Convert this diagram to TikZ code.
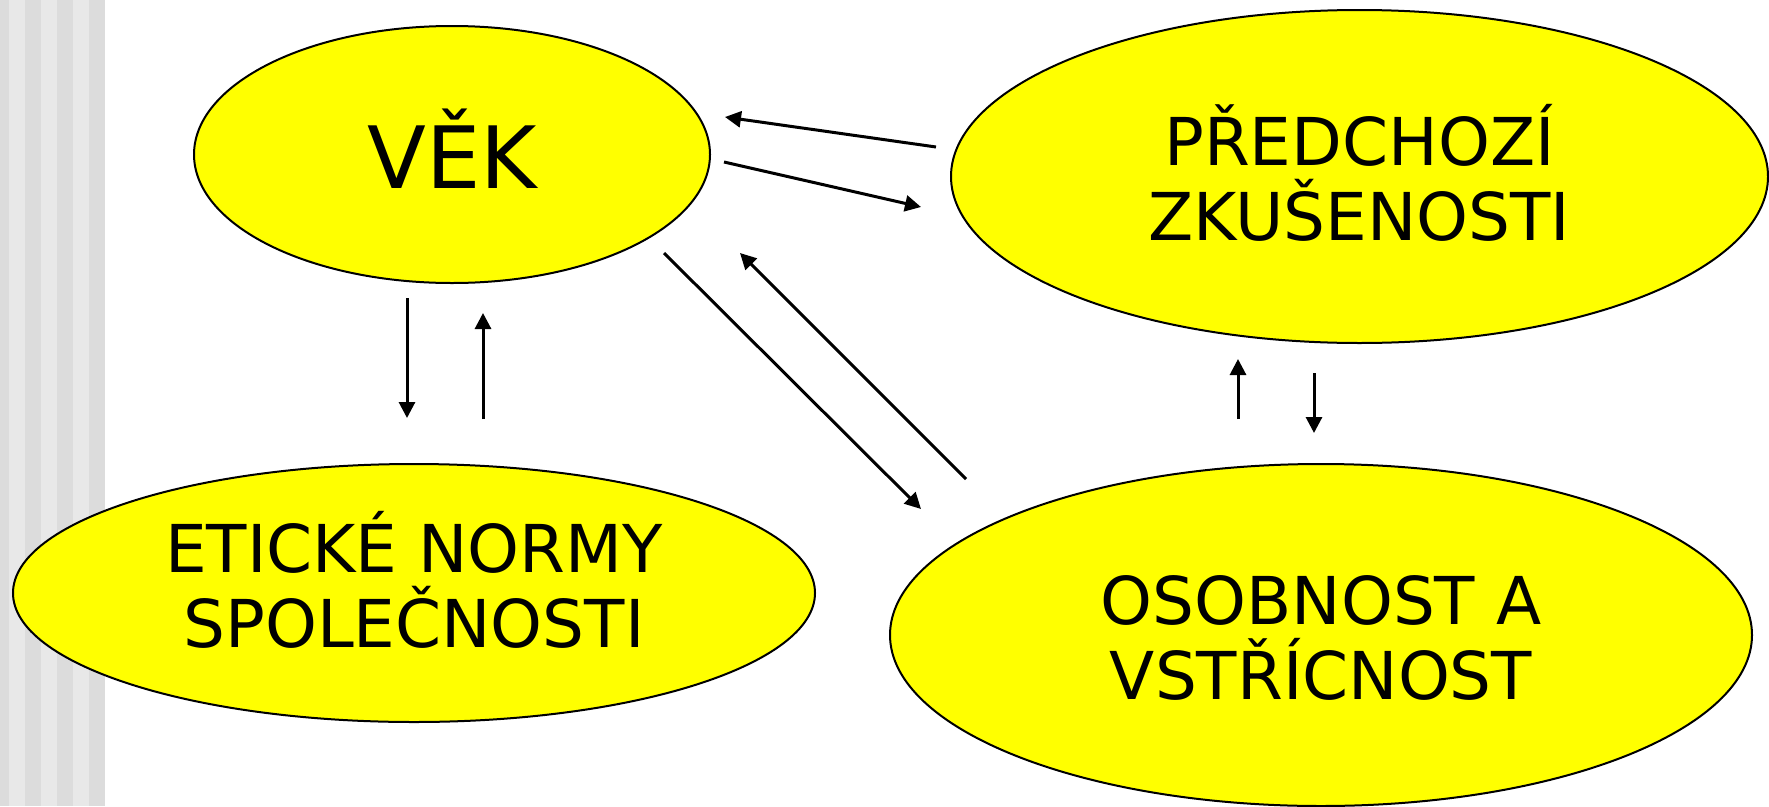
\documentclass[tikz,border=0pt]{standalone}
\usepackage{fontspec}
\setmainfont{DejaVu Sans}
\usetikzlibrary{shapes.geometric,arrows.meta}
\definecolor{stripedark}{HTML}{DCDCDC}
\definecolor{stripelight}{HTML}{E8E8E8}
\definecolor{bubbleyellow}{HTML}{FFFF00}
\begin{document}
\begin{tikzpicture}[x=1pt,y=-1pt,
  bubble/.style={ellipse,draw=black,line width=2pt,fill=bubbleyellow,inner sep=0pt,
    align=center,text depth=0pt,font=\fontsize{66}{75}\selectfont},
  link/.style={line width=3pt,-{Triangle[length=16pt,width=16pt]}}]
\useasboundingbox (0,0) rectangle (1769,806);
\fill[white] (0,0) rectangle (1769,806);
\fill[stripelight] (0,0) rectangle (105,806);
\fill[stripedark] (0,0) rectangle (9,806);
\foreach \x in {25,57,89}
  \fill[stripedark] (\x,0) rectangle (\x+16,806);
\node[bubble,minimum width=516pt,minimum height=257pt,text height=67pt,
  font=\fontsize{86}{100}\selectfont] (vek) at (452,154.5) {VĚK};
\node[bubble,minimum width=817pt,minimum height=333pt,text height=127pt] (predchozi) at (1359.5,176.5) {PŘEDCHOZÍ\\ZKUŠENOSTI};
\node[bubble,minimum width=802pt,minimum height=258pt,text height=108pt] (eticke) at (414,593) {ETICKÉ NORMY\\SPOLEČNOSTI};
\node[bubble,minimum width=862pt,minimum height=342pt,text height=128pt] (osobnost) at (1321,635) {OSOBNOST A\\VSTŘÍCNOST};
\coordinate (pv1) at (936,147);
\coordinate (pv2) at (725,117);
\coordinate (vp1) at (724,162);
\coordinate (vp2) at (921,207);
\coordinate (ve1) at (407,298);
\coordinate (ve2) at (407,418);
\coordinate (ev1) at (483,419);
\coordinate (ev2) at (483,313);
\coordinate (vo1) at (664,253);
\coordinate (vo2) at (921,509);
\coordinate (ov1) at (966,479);
\coordinate (ov2) at (740,253);
\coordinate (op1) at (1238,419);
\coordinate (op2) at (1238,359);
\coordinate (po1) at (1314,373);
\coordinate (po2) at (1314,433);
\draw[link] (pv1) -- (pv2);
\draw[link] (vp1) -- (vp2);
\draw[link] (ve1) -- (ve2);
\draw[link] (ev1) -- (ev2);
\draw[link] (vo1) -- (vo2);
\draw[link] (ov1) -- (ov2);
\draw[link] (op1) -- (op2);
\draw[link] (po1) -- (po2);
\end{tikzpicture}
\end{document}
